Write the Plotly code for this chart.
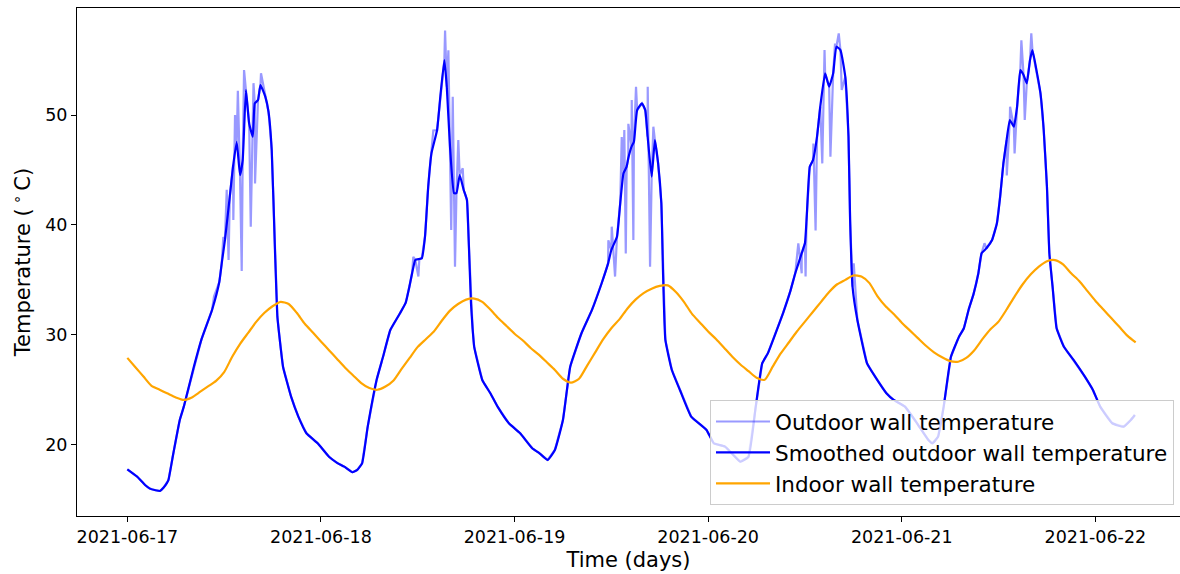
import pandas as pd
import plotly.graph_objects as go

# ---------------- data ----------------
# Smoothed outdoor wall temperature: hours since 2021-06-17 00:00 and values (°C)
smooth_hours = [
    0.0, 1.2, 2.2, 2.8, 3.5, 4.05, 4.5, 4.9, 5.1, 5.7, 6.5, 7.0, 8.2, 9.2, 10.5, 11.4, 11.7, 12.1, 12.7, 13.1,
    13.56, 13.97, 14.3, 14.7, 15.1, 15.55, 15.8, 16.2, 16.5, 17.1, 17.5, 17.9, 18.3, 18.6, 18.9, 19.3, 20.3,
    21.2, 22.2, 23.6, 25.0, 26.0, 26.9, 27.9, 28.5, 29.1, 29.8, 30.9, 31.7, 32.6, 33.8, 34.5, 35.0, 35.3, 35.7,
    36.2, 36.5, 36.9, 37.3, 37.7, 38.4, 38.8, 39.3, 39.6, 40.0, 40.5, 40.8, 41.2, 41.7, 42.1, 42.3, 42.6, 42.8,
    43.0, 44.0, 45.0, 45.9, 47.3, 48.7, 50.2, 51.1, 52.1, 53.0, 54.0, 54.9, 56.3, 57.6, 58.8, 59.6, 60.0, 60.7,
    61.1, 61.5, 61.9, 62.1, 62.5, 62.8, 63.2, 63.8, 64.2, 64.5, 65.0, 65.4, 65.8, 66.2, 66.4, 66.7, 67.5, 68.5,
    69.9, 71.8, 72.7, 74.1, 75.2, 76.0, 77.0, 77.9, 78.7, 79.4, 80.8, 81.3, 82.2, 82.8, 83.6, 84.0, 84.2, 84.6,
    85.0, 85.5, 85.9, 86.5, 87.0, 87.5, 87.9, 88.4, 89.0, 89.4, 89.6, 89.9, 90.5, 91.7, 92.7, 94.1, 95.0, 96.4,
    97.9, 99.3, 99.8, 100.5, 101.2, 102.1, 103.1, 103.7, 104.3, 104.9, 105.5, 105.9, 106.5, 107.2, 107.8, 108.2,
    108.6, 109.0, 109.4, 109.9, 110.3, 110.7, 111.1, 111.5, 111.9, 112.2, 112.7, 113.2, 113.6, 114.0, 114.3,
    114.7, 115.2, 116.1, 117.3, 118.7, 119.7, 120.6, 122.1, 123.5, 124.4, 124.9,
]
smooth_temp = [
    17.76, 17.1, 16.33, 16.0, 15.85, 15.79, 16.1, 16.5, 16.8, 19.2, 22.25, 23.46, 26.95, 29.6, 32.26, 34.8, 36.5,
    38.63, 42.57, 45.3, 47.57, 44.54, 45.9, 52.27, 49.24, 48.03, 51.06, 51.36, 52.73, 51.67, 50.3, 46.8, 37.7,
    31.65, 29.53, 27.1, 24.37, 22.55, 21.04, 20.13, 18.9, 18.35, 18.0, 17.49, 17.7, 18.3, 21.64, 25.89, 28.0,
    30.44, 31.96, 32.9, 34.5, 35.6, 36.81, 36.9, 36.96, 38.93, 43.48, 46.51, 48.64, 51.67, 55.0, 52.58, 47.12,
    42.88, 42.88, 44.54, 43.18, 42.27, 38.93, 32.87, 30.59, 28.9, 25.89, 24.68, 23.46, 21.95, 21.04, 19.67,
    19.22, 18.61, 19.52, 22.25, 27.1, 30.14, 32.26, 34.69, 36.5, 37.72, 38.93, 41.96, 44.69, 45.3, 46.06, 47.12,
    47.57, 50.45, 51.06, 50.45, 48.03, 44.39, 47.72, 45.6, 41.96, 35.9, 29.53, 26.8, 24.98, 22.55, 21.34, 20.13,
    19.82, 19.0, 18.45, 18.9, 23.46, 27.4, 28.31, 31.0, 32.0, 34.0, 35.6, 37.42, 38.33, 40.45, 45.3, 45.9, 48.03,
    50.76, 53.79, 52.58, 53.79, 56.22, 55.91, 53.49, 48.03, 40.45, 34.38, 31.35, 27.4, 26.19, 24.68, 24.07,
    23.46, 21.95, 20.43, 20.13, 20.73, 23.46, 28.0, 29.83, 30.6, 32.3, 33.7, 35.6, 37.42, 37.87, 38.63, 40.15,
    42.57, 45.6, 47.72, 49.55, 48.94, 50.76, 54.09, 53.64, 52.88, 55.0, 55.91, 54.09, 51.97, 48.64, 43.48, 37.42,
    34.38, 30.59, 28.92, 27.71, 26.19, 24.98, 23.46, 21.95, 21.64, 22.25, 22.7,
]

# Extra raw readings (spikes of the unsmoothed outdoor sensor): hours and values
spike_hours = [
    10.75, 11.9, 12.32, 12.55, 13.14, 13.35, 13.7, 14.18, 14.47, 15.3, 15.64, 15.83, 16.57,
    35.45, 36.08, 37.93, 39.39, 39.8, 40.15, 40.34, 40.62, 41.03, 41.58,
    59.63, 60.05, 60.46, 61.29, 61.61, 61.79, 62.11, 62.53, 62.73, 63.06, 64.51, 64.8, 65.21,
    83.18, 83.6, 84.08, 85.05, 85.32, 86.15, 86.43, 87.16, 87.73, 88.19, 88.56, 90.05,
    106.26, 109.02, 109.43, 109.99, 110.83, 111.25, 112.06,
]
spike_temp = [
    33.5, 38.9, 43.2, 36.8, 40.45, 50.0, 52.2, 35.8, 54.1, 39.84, 52.9, 43.78, 53.8,
    37.1, 35.3, 48.6, 57.7, 55.9, 39.54, 51.67, 36.2, 47.72, 45.15,
    38.6, 39.84, 35.3, 48.0, 48.64, 37.4, 49.2, 51.36, 38.63, 52.58, 52.58, 36.2, 48.94,
    38.33, 35.6, 35.3, 47.4, 39.5, 45.6, 55.91, 46.2, 56.5, 57.43, 52.27, 36.5,
    38.33, 44.5, 50.76, 46.5, 56.8, 49.55, 57.43,
]

# Indoor wall temperature, hourly from 2021-06-17 00:00
indoor_temp = [
    27.9, 27.05, 26.2, 25.35, 25.0, 24.65, 24.3, 24.07, 24.3, 24.8, 25.3, 25.8, 26.6, 28.0, 29.2, 30.2, 31.2,
    32.0, 32.6, 33.0, 32.8, 32.0, 31.0, 30.2, 29.4, 28.6, 27.8, 27.0, 26.3, 25.6, 25.15, 25.0, 25.3, 25.85, 26.9,
    27.9, 28.9, 29.6, 30.3, 31.3, 32.2, 32.8, 33.2, 33.3, 33.0, 32.3, 31.5, 30.8, 30.1, 29.5, 28.8, 28.2, 27.5,
    26.8, 26.0, 25.65, 26.0, 27.2, 28.4, 29.6, 30.6, 31.4, 32.4, 33.2, 33.8, 34.2, 34.45, 34.5, 33.9, 33.0, 31.9,
    31.1, 30.3, 29.6, 28.8, 28.0, 27.3, 26.7, 26.1, 25.9, 27.1, 28.3, 29.3, 30.3, 31.2, 32.1, 33.0, 33.9, 34.6,
    35.0, 35.4, 35.3, 34.7, 33.5, 32.6, 31.9, 31.1, 30.4, 29.7, 29.0, 28.4, 27.95, 27.6, 27.55, 27.9, 28.6, 29.6,
    30.5, 31.2, 32.3, 33.5, 34.6, 35.5, 36.2, 36.7, 36.8, 36.4, 35.6, 34.9, 34.0, 33.1, 32.3, 31.5, 30.7, 29.9,
    29.3,
]

y_ticks = [20, 30, 40, 50]
series_names = ["Outdoor wall temperature", "Smoothed outdoor wall temperature", "Indoor wall temperature"]

# ---------------- build ----------------
base = pd.Timestamp("2021-06-17")


def to_time(hours):
    return [(base + pd.Timedelta(hours=h)).strftime("%Y-%m-%d %H:%M:%S") for h in hours]


raw_pairs = sorted(zip(smooth_hours + spike_hours, smooth_temp + spike_temp))
raw_hours = [p[0] for p in raw_pairs]
raw_temp = [p[1] for p in raw_pairs]
indoor_time = pd.date_range("2021-06-17", periods=len(indoor_temp), freq="h").strftime("%Y-%m-%d %H:%M:%S")

FONT = "DejaVu Sans"
W, H = 1180, 574
ML, MR, MT, MB = 77, 0, 8, 58
px_per_day = 193.6
left_days = -0.26
right_days = left_days + (W - ML - MR) / px_per_day
x0 = (base + pd.Timedelta(days=left_days)).strftime("%Y-%m-%d %H:%M:%S")
x1 = (base + pd.Timedelta(days=right_days)).strftime("%Y-%m-%d %H:%M:%S")

fig = go.Figure()
fig.add_trace(go.Scatter(x=to_time(raw_hours), y=raw_temp, mode="lines", name=series_names[0],
                         line=dict(color="rgba(0,0,255,0.4)", width=2.2)))
fig.add_trace(go.Scatter(x=to_time(smooth_hours), y=smooth_temp, mode="lines", name=series_names[1],
                         line=dict(color="#0000ff", width=2.2, shape="spline", smoothing=0.4)))
fig.add_trace(go.Scatter(x=list(indoor_time), y=indoor_temp, mode="lines", name=series_names[2],
                         line=dict(color="#ffa500", width=2.2, shape="spline", smoothing=0.6)))

fig.update_layout(
    width=W, height=H,
    margin=dict(l=ML, r=MR, t=MT, b=MB),
    paper_bgcolor="white", plot_bgcolor="white",
    font=dict(family=FONT, color="black"),
    showlegend=True,
    legend=dict(
        x=(1174 - ML) / (W - ML - MR), y=(516 - 505) / (H - MT - MB),
        xanchor="right", yanchor="bottom",
        bgcolor="rgba(255,255,255,0.8)", bordercolor="#cccccc", borderwidth=1,
        font=dict(family=FONT, size=21.5, color="black"),
        itemwidth=54,
    ),
    xaxis=dict(
        type="date", range=[x0, x1],
        tick0="2021-06-17", dtick=86400000, tickformat="%Y-%m-%d",
        ticks="outside", ticklen=5, tickwidth=1, tickcolor="black",
        showline=True, linecolor="black", linewidth=1, mirror=True,
        showgrid=False, zeroline=False,
        tickfont=dict(family=FONT, size=17.5, color="black"),
        title=dict(text="Time (days)", font=dict(family=FONT, size=21, color="black"), standoff=6),
    ),
    yaxis=dict(
        range=[13.51, 59.74],
        tickvals=y_ticks,
        ticks="outside", ticklen=5, tickwidth=1, tickcolor="black",
        showline=True, linecolor="black", linewidth=1, mirror=False,
        showgrid=False, zeroline=False,
        tickfont=dict(family=FONT, size=17.5, color="black"),
        title=dict(text="Temperature (\u2009<sup>∘</sup>\u2009C)", font=dict(family=FONT, size=21, color="black"), standoff=8),
    ),
)

fig.write_html("out.html")
